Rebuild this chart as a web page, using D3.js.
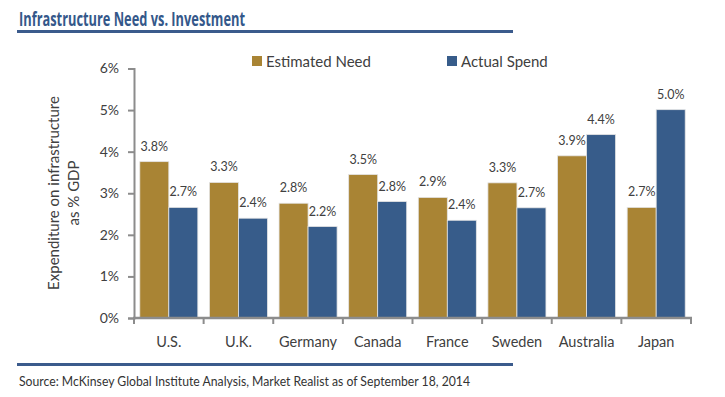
<!DOCTYPE html>
<html><head><meta charset="utf-8">
<script src="https://cdn.jsdelivr.net/npm/d3@7"></script>
<style>body{margin:0;background:#fff}svg{display:block}</style>
</head><body><svg id="c" width="725" height="397"></svg>
<script>
const categories = ["U.S.","U.K.","Germany","Canada","France","Sweden","Australia","Japan"];
const seriesNames = ["Estimated Need","Actual Spend"];
const estimatedNeed = [3.76,3.26,2.76,3.45,2.90,3.25,3.90,2.66];
const actualSpend  = [2.66,2.40,2.20,2.80,2.35,2.65,4.41,5.01];
const needLabels  = ["3.8%","3.3%","2.8%","3.5%","2.9%","3.3%","3.9%","2.7%"];
const spendLabels = ["2.7%","2.4%","2.2%","2.8%","2.4%","2.7%","4.4%","5.0%"];
const yTicks = [0,1,2,3,4,5,6];
const colors = ["#A98434","#375C8A"];

const font = "Lato, 'Open Sans', sans-serif";
const svg = d3.select("#c");
const x0 = d3.scaleBand().domain(categories).range([134,691]).padding(0);
const x1 = d3.scaleBand().domain(seriesNames).range([0,x0.bandwidth()]).paddingInner(0).paddingOuter(0.2);
const y = d3.scaleLinear().domain([0,6]).range([318,68.5]);

// title
svg.append("text").attr("x",19).attr("y",26).text("Infrastructure Need vs. Investment")
  .attr("font-family","'Open Sans', sans-serif").attr("font-weight","bold").attr("font-size",19)
  .attr("fill","#34588A").attr("textLength",226).attr("lengthAdjust","spacingAndGlyphs");
svg.append("rect").attr("x",17).attr("y",30).attr("width",496).attr("height",3).attr("fill","#3B5B8C");
svg.append("rect").attr("x",17).attr("y",363).attr("width",496).attr("height",3).attr("fill","#3B5B8C");
svg.append("text").attr("x",19).attr("y",386).text("Source: McKinsey Global Institute Analysis, Market Realist as of September 18, 2014")
  .attr("font-family",font).attr("font-size",13).attr("fill","#333")
  .attr("textLength",451).attr("lengthAdjust","spacingAndGlyphs");

// bars
const data = categories.map((c,i)=>({c, vals:[estimatedNeed[i],actualSpend[i]], labs:[needLabels[i],spendLabels[i]]}));
const g = svg.append("g");
const grp = g.selectAll("g").data(data).join("g").attr("transform",d=>`translate(${x0(d.c)},0)`);
grp.selectAll("rect").data(d=>d.vals.map((v,j)=>({v,j,s:seriesNames[j]}))).join("rect")
  .attr("x",d=>x1(d.s)).attr("width",x1.bandwidth())
  .attr("y",d=>y(d.v)).attr("height",d=>y(0)-y(d.v))
  .attr("fill",d=>colors[d.j]).attr("stroke","#e4e4e4").attr("stroke-width",0.8);
grp.selectAll("text").data(d=>d.vals.map((v,j)=>({v,j,s:seriesNames[j],l:d.labs[j]}))).join("text")
  .attr("x",d=>x1(d.s)+x1.bandwidth()/2).attr("y",d=>y(d.v)-11)
  .attr("text-anchor","middle").attr("font-family",font).attr("font-size",12.5).attr("fill","#404040")
  .text(d=>d.l);

// y axis
const ya = svg.append("g").attr("transform","translate(134,0)")
  .call(d3.axisLeft(y).tickValues(yTicks).tickFormat(d=>d+"%").tickSize(6).tickPadding(9));
ya.select(".domain").attr("stroke","#8c8c8c").attr("stroke-width",2);
ya.selectAll(".tick line").attr("stroke","#8c8c8c").attr("stroke-width",2);
ya.selectAll(".tick text").attr("font-family",font).attr("font-size",14).attr("fill","#404040");

// x axis
const xa = svg.append("g").attr("transform","translate(0,318)")
  .call(d3.axisBottom(x0).tickSize(0).tickPadding(19));
xa.select(".domain").remove();
xa.append("line").attr("x1",133).attr("x2",692).attr("stroke","#8c8c8c").attr("stroke-width",2.5);
const bounds = categories.map(c=>x0(c)).concat([x0.range()[1]]);
xa.selectAll(".bt").data(bounds).join("line").attr("class","bt")
  .attr("x1",d=>d).attr("x2",d=>d).attr("y1",0).attr("y2",6).attr("stroke","#8c8c8c").attr("stroke-width",2);
xa.selectAll(".tick text").attr("font-family",font).attr("font-size",14.5).attr("fill","#404040");

// y title
const yt = svg.append("text").attr("transform","translate(65,193) rotate(-90)")
  .attr("text-anchor","middle").attr("font-family",font).attr("font-size",15).attr("fill","#404040");
yt.append("tspan").attr("x",0).attr("dy",-6).text("Expenditure on infrastructure");
yt.append("tspan").attr("x",0).attr("dy",20).text("as % GDP");

// legend
const lg = svg.append("g").selectAll("g").data(seriesNames).join("g")
  .attr("transform",(d,i)=>`translate(${[252,447][i]},56)`);
lg.append("rect").attr("width",10).attr("height",10).attr("fill",(d,i)=>colors[i]);
lg.append("text").attr("x",14).attr("y",11).text(d=>d)
  .attr("font-family",font).attr("font-size",15).attr("fill","#404040");
</script></body></html>
